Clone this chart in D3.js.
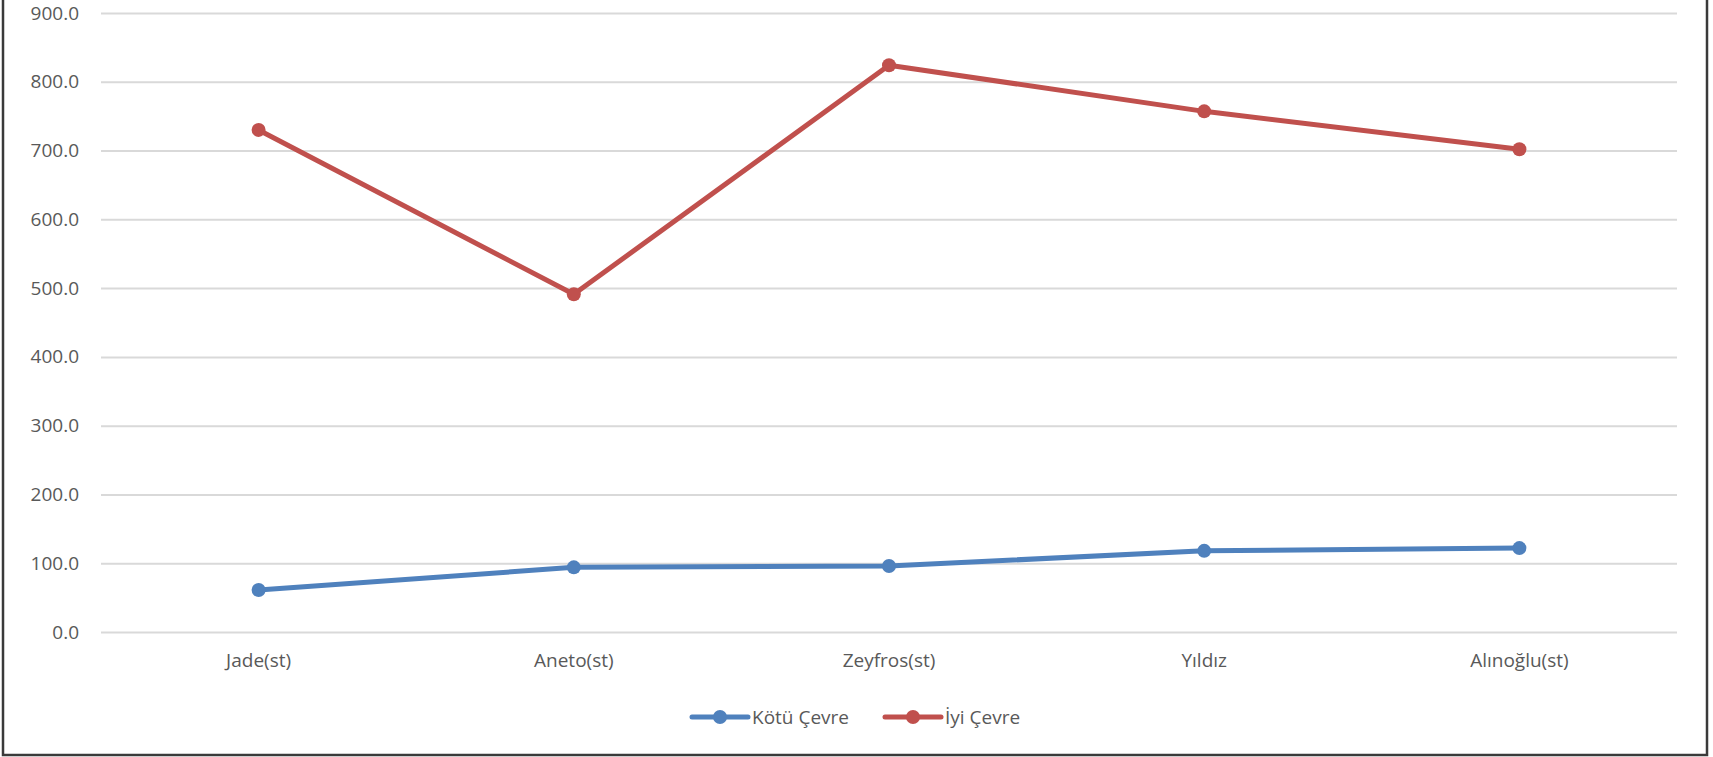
<!DOCTYPE html>
<html>
<head>
<meta charset="utf-8">
<script src="https://cdn.jsdelivr.net/npm/d3@7"></script>
<style>
  body { margin: 0; background: #fff; }
  text { font-family: "Open Sans", sans-serif; fill: #595959; }
</style>
</head>
<body>
<script>
// Stage
let width = 1713;
let height = 757;

let svg = d3.select("body")
            .append("svg")
            .attr("width", width)
            .attr("height", height);

// Data
const categories = ["Jade(st)", "Aneto(st)", "Zeyfros(st)", "Yıldız", "Alınoğlu(st)"];
const kotuCevre = [61, 94, 96, 118, 122];
const iyiCevre = [730, 491, 824, 757, 702];
const seriesNames = ["Kötü Çevre", "İyi Çevre"];
const yTicks = [0, 100, 200, 300, 400, 500, 600, 700, 800, 900];

// Colors
let blue_color = "#4f81bd";
let red_color = "#c0504d";
let grid_color = "#d9d9d9";

const series = [
  {name: seriesNames[0], values: kotuCevre, color: blue_color},
  {name: seriesNames[1], values: iyiCevre, color: red_color}
];

// Outer frame
svg.append("rect")
  .attr("x", 3)
  .attr("y", -10)
  .attr("width", 1704)
  .attr("height", 765)
  .attr("fill", "none")
  .attr("stroke", "#3a3a3a")
  .attr("stroke-width", 2.5);

// Scales
const plot = {left: 101, right: 1677, top: 13, bottom: 632};

const x = d3.scaleBand()
  .domain(categories)
  .range([plot.left, plot.right])
  .padding(0);

const y = d3.scaleLinear()
  .domain([0, 900])
  .range([plot.bottom, plot.top]);

// Gridlines + y labels
let yAxis = svg.append("g")
  .attr("transform", `translate(${plot.left},0)`)
  .call(d3.axisLeft(y)
    .tickValues(yTicks)
    .tickSize(-(plot.right - plot.left))
    .tickPadding(22)
    .tickFormat(d3.format(".1f")));

yAxis.select(".domain").remove();
yAxis.selectAll(".tick line")
  .attr("stroke", grid_color)
  .attr("stroke-width", 2);
yAxis.selectAll(".tick text")
  .attr("font-size", 19)
  .attr("fill", "#595959");

// x labels
let xAxis = svg.append("g")
  .attr("transform", `translate(0,${plot.bottom})`)
  .call(d3.axisBottom(x).tickSize(0).tickPadding(22));

xAxis.select(".domain").remove();
xAxis.selectAll(".tick text")
  .attr("font-size", 19)
  .attr("fill", "#595959");

// Lines
const line = d3.line()
  .x((d, i) => x(categories[i]) + x.bandwidth() / 2)
  .y(d => y(d));

series.forEach(s => {
  svg.append("path")
    .datum(s.values)
    .attr("fill", "none")
    .attr("stroke", s.color)
    .attr("stroke-width", 5)
    .attr("stroke-linejoin", "round")
    .attr("d", line);

  svg.selectAll(null)
    .data(s.values)
    .enter().append("circle")
    .attr("cx", (d, i) => x(categories[i]) + x.bandwidth() / 2)
    .attr("cy", d => y(d))
    .attr("r", 7)
    .attr("fill", s.color);
});

// Legend
const legendX = [692, 885];
const legendY = 717;

let legend = svg.append("g");
series.forEach((s, i) => {
  let g = legend.append("g").attr("transform", `translate(${legendX[i]},${legendY})`);
  g.append("line")
    .attr("x1", 0).attr("x2", 56)
    .attr("y1", 0).attr("y2", 0)
    .attr("stroke", s.color)
    .attr("stroke-width", 5)
    .attr("stroke-linecap", "round");
  g.append("circle")
    .attr("cx", 28).attr("cy", 0)
    .attr("r", 7)
    .attr("fill", s.color);
  g.append("text")
    .attr("x", 60)
    .attr("y", 0)
    .attr("dy", "0.35em")
    .attr("font-size", 19)
    .text(s.name);
});
</script>
</body>
</html>
